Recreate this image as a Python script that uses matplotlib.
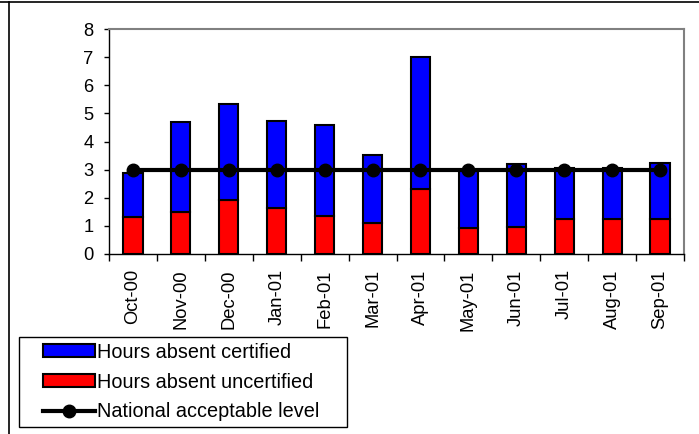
import matplotlib
matplotlib.use("Agg")
import matplotlib.pyplot as plt
from matplotlib.lines import Line2D
from matplotlib.patches import Patch, Rectangle
import numpy as np

plt.rcParams['font.family'] = ['Liberation Sans', 'DejaVu Sans']

months = ["Oct-00", "Nov-00", "Dec-00", "Jan-01", "Feb-01", "Mar-01",
          "Apr-01", "May-01", "Jun-01", "Jul-01", "Aug-01", "Sep-01"]
uncertified = [1.30, 1.48, 1.92, 1.62, 1.35, 1.11, 2.31, 0.94, 0.97, 1.23, 1.23, 1.24]
total = [2.89, 4.68, 5.35, 4.73, 4.57, 3.52, 7.02, 2.95, 3.20, 3.05, 3.05, 3.25]
certified = [t - u for t, u in zip(total, uncertified)]
national_level = [3, 3, 3, 3, 3, 3, 3, 3, 3, 3, 3, 3]

FS_TICK = 13.2
FS_LEG = 14.3
W, H = 699, 434

fig = plt.figure(figsize=(W / 100, H / 100), dpi=100)
ax = fig.add_axes([109 / W, 1 - 254 / H, (684 - 109) / W, (254 - 29) / H])

x = np.arange(len(months))
w = 0.4
ax.bar(x, uncertified, width=w, color="#ff0000", edgecolor="black", linewidth=1.5, zorder=2)
ax.bar(x, certified, width=w, bottom=uncertified, color="#0000ff", edgecolor="black",
       linewidth=1.5, zorder=2)
ax.plot(x, national_level, color="black", linewidth=3, marker="o", markersize=9, zorder=3)

ax.set_xlim(-0.5, len(months) - 0.5)
ax.set_ylim(0, 8)
ax.set_yticks(range(0, 9))
ax.tick_params(axis="y", labelsize=FS_TICK, length=3.6, width=1, direction="out", pad=7.5)
ax.set_xticks(x)
ax.set_xticklabels(months, rotation=90, fontsize=FS_TICK)
ax.tick_params(axis="x", which="major", length=0, pad=11)
ax.set_xticks(np.arange(-0.5, len(months)), minor=True)
ax.tick_params(axis="x", which="minor", length=5, width=1, direction="out")

for side in ("top", "right"):
    ax.spines[side].set_color("#808080")
    ax.spines[side].set_linewidth(1.5)
for side in ("left", "bottom"):
    ax.spines[side].set_color("black")
    ax.spines[side].set_linewidth(1)

# legend box
fig.add_artist(Rectangle((19 / W, 1 - 427 / H), (347 - 19) / W, (427 - 337) / H,
                         transform=fig.transFigure, facecolor="white", edgecolor="black",
                         linewidth=1, zorder=4))

handles = [
    Patch(facecolor="#0000ff", edgecolor="black", linewidth=1.5, label="Hours absent certified"),
    Patch(facecolor="#ff0000", edgecolor="black", linewidth=1.5, label="Hours absent uncertified"),
    Line2D([0], [0], color="black", linewidth=3, marker="o", markersize=9,
           label="National acceptable level"),
]
leg = fig.legend(handles=handles, loc="center left",
                 bbox_to_anchor=(43 / W, 1 - 382 / H), frameon=False,
                 fontsize=FS_LEG, borderpad=0, labelspacing=0.55, handlelength=2.6,
                 handletextpad=0.12, handleheight=0.65, borderaxespad=0)
leg.set_zorder(5)

# outer chart frame
fig.add_artist(Line2D([0, 1], [1 - 2 / H, 1 - 2 / H], color="black", linewidth=1.2,
                      transform=fig.transFigure))
fig.add_artist(Line2D([9 / W, 9 / W], [0, 1 - 2 / H], color="black", linewidth=1.2,
                      transform=fig.transFigure))

fig.savefig("out.png", dpi=100)
